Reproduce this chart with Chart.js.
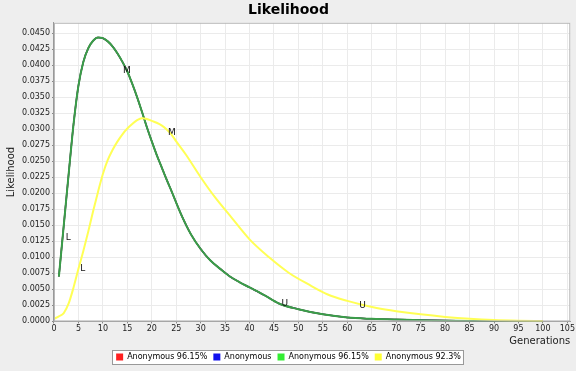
<!DOCTYPE html>
<html>
<head>
<meta charset="utf-8">
<script src="https://cdn.jsdelivr.net/npm/chart.js@4"></script>
<style>
  html, body { margin: 0; padding: 0; background: #eeeeee; }
  #wrap { width: 576px; height: 371px; }
</style>
</head>
<body>
<div id="wrap"><canvas id="likelihoodChart" width="576" height="371"></canvas></div>
<script>
// values
const seriesNames = ['Anonymous 96.15%', 'Anonymous', 'Anonymous 96.15%', 'Anonymous 92.3%'];
const legendColors = ['#ff2020', '#1010ee', '#33ee33', '#ffff33'];

const greenX = [1, 2, 3, 4, 5, 6, 7, 8, 9, 10, 11, 12, 13, 14, 15, 16, 17, 18, 19, 20, 21, 22, 23, 24, 26, 28, 30, 32, 34, 36, 38, 40, 43, 46, 50, 55, 60, 65, 70, 77, 85, 92, 100];
const greenY = [0.0070, 0.0150, 0.0230, 0.0308, 0.0368, 0.0405, 0.0426, 0.0438, 0.0443, 0.0442, 0.0437, 0.0429, 0.0418, 0.0405, 0.0390, 0.0371, 0.0350, 0.0327, 0.0303, 0.0281,
  0.0260, 0.0241, 0.0222, 0.0204, 0.0167, 0.0136, 0.0113, 0.0095, 0.0082, 0.0070, 0.0061, 0.0053, 0.0041, 0.0028, 0.0019, 0.0011, 0.0006, 0.0004, 0.00028, 0.00016, 0.00008, 0.00004, 0.00002];

const yellowX = [0, 1, 2, 3, 4, 5, 6, 7, 8, 9, 10, 11, 12, 13, 14, 15, 16, 17, 18, 19, 20, 21, 22, 23, 24, 25, 27, 30, 33, 36, 40, 44, 48, 52, 56, 60, 63, 66, 70, 75, 80, 85, 90, 95, 100];
const yellowY = [0.0004, 0.0008, 0.0013, 0.0028, 0.0053, 0.0082, 0.0110, 0.0140, 0.0172, 0.0202, 0.0230, 0.0252, 0.0268, 0.0281, 0.0292, 0.0301, 0.0308, 0.0314, 0.0317, 0.0316,
  0.0313, 0.0310, 0.0306, 0.0300, 0.0292, 0.0281, 0.0260, 0.0225, 0.0193, 0.0165, 0.0128, 0.0100, 0.0076, 0.0058, 0.0042, 0.0032, 0.0026, 0.0021, 0.0016, 0.0011, 0.0007, 0.0004, 0.0002, 0.0001, 0.00005];

// L / M / U markers on the curves
const markText = ['L', 'M', 'U', 'L', 'M', 'U'];
const markX = [2.9, 14.9, 47.2, 5.9, 24.1, 63.1];
const markY = [0.0130, 0.0391, 0.0028, 0.0082, 0.0295, 0.0025];

function toPoints(xs, ys) {
  return xs.map((x, i) => ({ x: x, y: ys[i] }));
}

const plotFrame = {
  id: 'plotFrame',
  beforeDraw(chart) {
    const { ctx, chartArea: a } = chart;
    ctx.save();
    ctx.fillStyle = '#ffffff';
    ctx.fillRect(a.left, a.top, a.right - a.left, a.bottom - a.top);
    ctx.restore();
  },
  afterDatasetsDraw(chart) {
    const { ctx, chartArea: a } = chart;
    ctx.save();
    ctx.strokeStyle = '#b8b8b8';
    ctx.lineWidth = 1;
    ctx.strokeRect(a.left + 0.5, a.top + 0.5, a.right - a.left - 1, a.bottom - a.top - 1);
    // curve markers
    ctx.fillStyle = '#111';
    ctx.font = '9px "DejaVu Sans"';
    ctx.textAlign = 'center';
    ctx.textBaseline = 'middle';
    const xs = chart.scales.x, ys = chart.scales.y;
    for (let i = 0; i < markText.length; i++) {
      ctx.fillText(markText[i], xs.getPixelForValue(markX[i]), ys.getPixelForValue(markY[i]));
    }
    // legend box border
    const boxes = chart.legend.legendHitBoxes;
    if (boxes && boxes.length) {
      const l = boxes[0].left - 4;
      const r = boxes[boxes.length - 1].left + boxes[boxes.length - 1].width + 2;
      const t = boxes[0].top - 3;
      const h = boxes[0].height + 6;
      ctx.strokeStyle = '#999';
      ctx.fillStyle = '#ffffff';
      ctx.globalCompositeOperation = 'destination-over';
      ctx.fillRect(l, t, r - l, h);
      ctx.globalCompositeOperation = 'source-over';
      ctx.strokeRect(Math.round(l) + 0.5, Math.round(t) + 0.5, Math.round(r - l), Math.round(h));
    }
    ctx.restore();
  }
};

const ctx = document.getElementById('likelihoodChart').getContext('2d');
new Chart(ctx, {
  type: 'line',
  data: {
    datasets: [
      { label: seriesNames[0], data: toPoints(greenX, greenY), borderColor: '#cc3333', borderWidth: 1.5, order: 4 },
      { label: seriesNames[1], data: toPoints(greenX, greenY), borderColor: '#333399', borderWidth: 1.5, order: 3 },
      { label: seriesNames[2], data: toPoints(greenX, greenY), borderColor: '#3a9e48', borderWidth: 2, order: 2 },
      { label: seriesNames[3], data: toPoints(yellowX, yellowY), borderColor: '#ffff55', borderWidth: 2, order: 1 }
    ]
  },
  options: {
    responsive: false,
    animation: false,
    parsing: false,
    elements: { point: { radius: 0 }, line: { cubicInterpolationMode: 'monotone', fill: false } },
    layout: { padding: { left: 5, right: 4, top: 0, bottom: 0 } },
    plugins: {
      title: {
        display: true, text: 'Likelihood', color: '#000',
        font: { family: 'DejaVu Sans', size: 14, weight: 'bold' },
        padding: { top: 2, bottom: 4 }
      },
      legend: {
        position: 'bottom',
        labels: {
          boxWidth: 7, boxHeight: 7, padding: 6, color: '#111',
          font: { family: 'DejaVu Sans', size: 8 },
          generateLabels(chart) {
            return chart.data.datasets.map((d, i) => ({
              text: d.label, fillStyle: legendColors[i], strokeStyle: legendColors[i],
              lineWidth: 0, datasetIndex: i
            }));
          }
        }
      },
      tooltip: { enabled: false }
    },
    scales: {
      x: {
        type: 'linear', min: 0, max: 105.6,
        afterBuildTicks(axis) {
          const t = [];
          for (let v = 0; v <= 105; v += 5) t.push({ value: v });
          axis.ticks = t;
        },
        ticks: { color: '#222', font: { family: 'DejaVu Sans', size: 8 }, padding: 1, maxRotation: 0, autoSkip: false },
        grid: { color: '#ebebeb', tickLength: 2, tickColor: '#888' },
        border: { color: '#999' },
        title: { display: true, text: 'Generations', align: 'end', color: '#222', font: { family: 'DejaVu Sans', size: 10 }, padding: { top: 0, bottom: 0 } }
      },
      y: {
        type: 'linear', min: 0, max: 0.0466,
        afterBuildTicks(axis) {
          const t = [];
          for (let k = 0; k <= 18; k++) t.push({ value: k * 0.0025 });
          axis.ticks = t;
        },
        ticks: { color: '#222', font: { family: 'DejaVu Sans', size: 8 }, padding: 2, autoSkip: false, callback: v => v.toFixed(4) },
        grid: { color: '#ebebeb', tickLength: 2, tickColor: '#888' },
        border: { color: '#999' },
        title: { display: true, text: 'Likelihood', color: '#222', font: { family: 'DejaVu Sans', size: 10 }, padding: { top: 0, bottom: 3 } }
      }
    }
  },
  plugins: [plotFrame]
});
</script>
</body>
</html>
